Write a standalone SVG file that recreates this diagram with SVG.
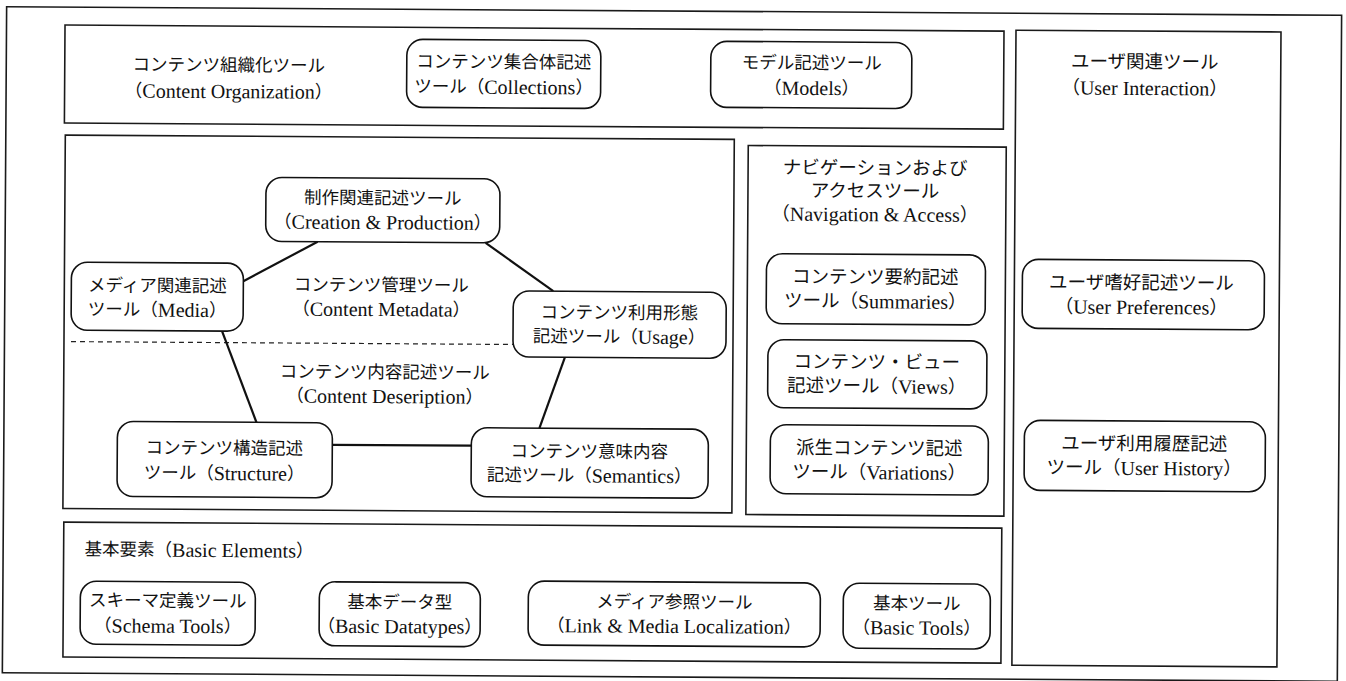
<svg xmlns="http://www.w3.org/2000/svg" width="1346" height="681" viewBox="0 0 1346 681">
<style>
.frame{fill:none;stroke:#1a1a1a;stroke-width:1.6}
.node{fill:#fff;stroke:#111;stroke-width:1.6}
.t{font-family:"Liberation Serif","Noto Sans CJK JP",serif;font-size:17.5px;fill:#111;text-anchor:middle;dominant-baseline:central}
.e{font-size:20px}
.r{font-size:18.5px}
.r .e{font-size:20px}
.l{text-anchor:start}
.conn{stroke:#111;stroke-width:2.2;fill:none}
.dash{stroke:#222;stroke-width:1.2;stroke-dasharray:5 4;fill:none}
</style>
<rect width="1346" height="681" fill="#fff"/>
<g transform="rotate(0.37 673 340)">
<rect class="frame" x="4.5" y="11" width="1335" height="666"/>

<g id="content-organization">
<rect class="frame" x="63" y="29" width="939" height="98"/>
<text class="t" x="227" y="68">コンテンツ組織化ツール</text>
<text class="t" x="227" y="94">（<tspan class="e">Content Organization</tspan>）</text>
</g>
<g id="collections">
<rect class="node" x="405" y="41" width="194" height="68" rx="16"/>
<text class="t" x="502" y="63">コンテンツ集合体記述</text>
<text class="t" x="502" y="88">ツール（<tspan class="e">Collections</tspan>）</text>
</g>
<g id="models">
<rect class="node" x="709" y="41" width="201" height="66" rx="16"/>
<text class="t" x="810" y="62">モデル記述ツール</text>
<text class="t" x="810" y="87">（<tspan class="e">Models</tspan>）</text>
</g>

<g id="content-metadata">
<rect class="frame" x="64" y="139" width="669" height="373.5"/>
<text class="t" x="381" y="287">コンテンツ管理ツール</text>
<text class="t" x="381" y="311">（<tspan class="e">Content Metadata</tspan>）</text>
<text class="t" x="385" y="374">コンテンツ内容記述ツール</text>
<text class="t" x="385" y="398">（<tspan class="e">Content Deseription</tspan>）</text>
</g>

<g id="connectors">
<line class="dash" x1="71" y1="345.5" x2="513" y2="345.5"/>
<line class="conn" x1="317" y1="244" x2="243" y2="284"/>
<line class="conn" x1="485" y1="244" x2="553" y2="292"/>
<line class="conn" x1="222" y1="334" x2="257" y2="425"/>
<line class="conn" x1="565" y1="358" x2="540" y2="429"/>
<line class="conn" x1="333" y1="447" x2="472" y2="447"/>
</g>

<g id="creation">
<rect class="node" x="265" y="180" width="234" height="64" rx="16"/>
<text class="t" x="382" y="200">制作関連記述ツール</text>
<text class="t" x="382" y="224">（<tspan class="e">Creation &amp; Production</tspan>）</text>
</g>
<g id="media">
<rect class="node" x="71" y="266" width="172" height="68" rx="16"/>
<text class="t" x="157" y="289">メディア関連記述</text>
<text class="t" x="157" y="313">ツール（<tspan class="e">Media</tspan>）</text>
</g>
<g id="usage">
<rect class="node" x="513" y="292" width="213" height="66" rx="16"/>
<text class="t" x="619" y="313">コンテンツ利用形態</text>
<text class="t" x="619" y="337">記述ツール（<tspan class="e">Usage</tspan>）</text>
</g>
<g id="structure">
<rect class="node" x="118" y="425" width="215" height="75" rx="16"/>
<text class="t" x="225" y="451">コンテンツ構造記述</text>
<text class="t" x="225" y="476">ツール（<tspan class="e">Structure</tspan>）</text>
</g>
<g id="semantics">
<rect class="node" x="472" y="429" width="237" height="69" rx="16"/>
<text class="t" x="590" y="452">コンテンツ意味内容</text>
<text class="t" x="590" y="476">記述ツール（<tspan class="e">Semantics</tspan>）</text>
</g>

<g id="navigation-access">
<rect class="frame" x="747" y="145" width="258" height="369"/>
<text class="t r" x="874" y="167">ナビゲーションおよび</text>
<text class="t r" x="874" y="190">アクセスツール</text>
<text class="t r" x="874" y="213">（<tspan class="e">Navigation &amp; Access</tspan>）</text>
</g>
<g id="summaries">
<rect class="node" x="766" y="253" width="219" height="70" rx="16"/>
<text class="t r" x="875" y="276">コンテンツ要約記述</text>
<text class="t r" x="875" y="300">ツール（<tspan class="e">Summaries</tspan>）</text>
</g>
<g id="views">
<rect class="node" x="768" y="339" width="219" height="68" rx="16"/>
<text class="t r" x="877" y="361">コンテンツ・ビュー</text>
<text class="t r" x="877" y="385">記述ツール（<tspan class="e">Views</tspan>）</text>
</g>
<g id="variations">
<rect class="node" x="771" y="424" width="218" height="69" rx="16"/>
<text class="t r" x="880" y="447">派生コンテンツ記述</text>
<text class="t r" x="880" y="471">ツール（<tspan class="e">Variations</tspan>）</text>
</g>

<g id="user-interaction">
<rect class="frame" x="1014" y="28" width="265" height="635"/>
<text class="t r" x="1143" y="59">ユーザ関連ツール</text>
<text class="t r" x="1143" y="85">（<tspan class="e">User Interaction</tspan>）</text>
</g>
<g id="user-preferences">
<rect class="node" x="1022" y="257" width="242" height="69" rx="16"/>
<text class="t r" x="1141" y="280">ユーザ嗜好記述ツール</text>
<text class="t r" x="1141" y="304">（<tspan class="e">User Preferences</tspan>）</text>
</g>
<g id="user-history">
<rect class="node" x="1025" y="418" width="241" height="70" rx="16"/>
<text class="t r" x="1145" y="441">ユーザ利用履歴記述</text>
<text class="t r" x="1145" y="465">ツール（<tspan class="e">User History</tspan>）</text>
</g>

<g id="basic-elements">
<rect class="frame" x="65" y="526" width="938" height="135"/>
<text class="t l" x="86" y="553">基本要素（<tspan class="e">Basic Elements</tspan>）</text>
</g>
<g id="schema-tools">
<rect class="node" x="82" y="585" width="175" height="63" rx="16"/>
<text class="t" x="169.5" y="604">スキーマ定義ツール</text>
<text class="t" x="169.5" y="629">（<tspan class="e">Schema Tools</tspan>）</text>
</g>
<g id="basic-datatypes">
<rect class="node" x="321" y="584" width="161" height="64" rx="16"/>
<text class="t" x="401.5" y="604">基本データ型</text>
<text class="t" x="401.5" y="628">（<tspan class="e">Basic Datatypes</tspan>）</text>
</g>
<g id="link-media">
<rect class="node" x="530" y="582" width="292" height="64" rx="16"/>
<text class="t" x="676" y="602">メディア参照ツール</text>
<text class="t" x="676" y="626">（<tspan class="e">Link &amp; Media Localization</tspan>）</text>
</g>
<g id="basic-tools">
<rect class="node" x="845" y="582" width="147" height="65" rx="16"/>
<text class="t" x="918.5" y="602">基本ツール</text>
<text class="t" x="918.5" y="626">（<tspan class="e">Basic Tools</tspan>）</text>
</g>
</g>
</svg>
